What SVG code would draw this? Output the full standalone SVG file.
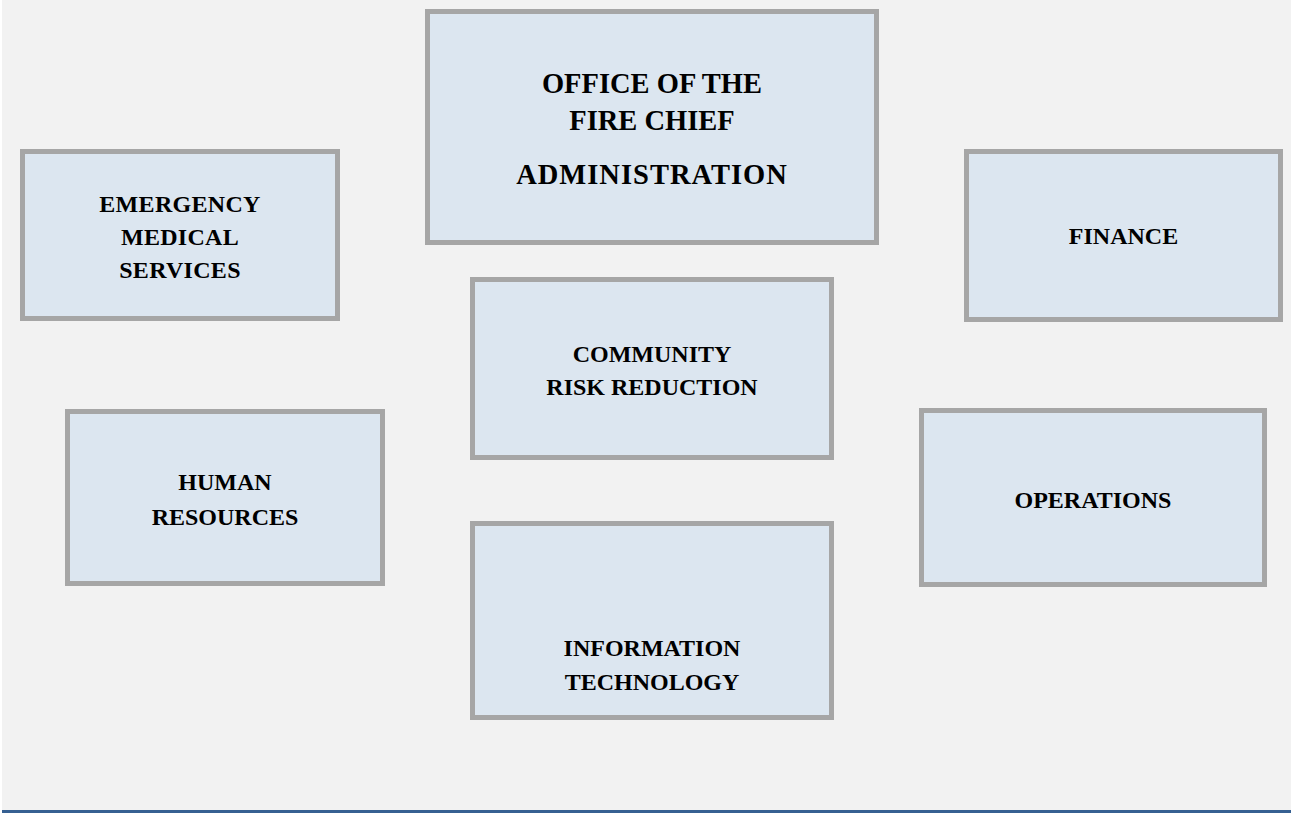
<svg xmlns="http://www.w3.org/2000/svg" width="1291" height="813" viewBox="0 0 1291 813">
  <style>
    .box { fill: #dce6f0; stroke: #a6a6a6; stroke-width: 5; }
    .lbl { font-family: "Liberation Serif", "Times New Roman", serif; font-weight: bold; font-size: 24px; fill: #000000; text-anchor: middle; }
    .big { font-size: 28.5px; }
  </style>
  <!-- page background and bottom rule -->
  <rect x="0" y="0" width="1291" height="813" fill="#ffffff"/>
  <rect x="2" y="0" width="1289" height="810" fill="#f2f2f2"/>
  <rect x="2" y="810" width="1289" height="3" fill="#366092"/>

  <g id="connectors"></g>

  <g id="office-fire-chief">
    <rect class="box" x="427.5" y="11.5" width="449" height="231"/>
    <text class="lbl big" x="652" y="93">OFFICE OF THE</text>
    <text class="lbl big" x="652" y="130">FIRE CHIEF</text>
    <text class="lbl big" x="652" y="184" letter-spacing="1">ADMINISTRATION</text>
  </g>

  <g id="emergency-medical-services">
    <rect class="box" x="22.5" y="151.5" width="315" height="167"/>
    <text class="lbl" x="180" y="212" letter-spacing="0.3">EMERGENCY</text>
    <text class="lbl" x="180" y="245" letter-spacing="0.3">MEDICAL</text>
    <text class="lbl" x="180" y="278" letter-spacing="0.3">SERVICES</text>
  </g>

  <g id="finance">
    <rect class="box" x="966.5" y="151.5" width="314" height="168"/>
    <text class="lbl" x="1123.5" y="244">FINANCE</text>
  </g>

  <g id="community-risk-reduction">
    <rect class="box" x="472.5" y="279.5" width="359" height="178"/>
    <text class="lbl" x="652" y="362">COMMUNITY</text>
    <text class="lbl" x="652" y="395">RISK REDUCTION</text>
  </g>

  <g id="human-resources">
    <rect class="box" x="67.5" y="411.5" width="315" height="172"/>
    <text class="lbl" x="225" y="490">HUMAN</text>
    <text class="lbl" x="225" y="525">RESOURCES</text>
  </g>

  <g id="operations">
    <rect class="box" x="921.5" y="410.5" width="343" height="174"/>
    <text class="lbl" x="1093" y="508">OPERATIONS</text>
  </g>

  <g id="information-technology">
    <rect class="box" x="472.5" y="523.5" width="359" height="194"/>
    <text class="lbl" x="652" y="656">INFORMATION</text>
    <text class="lbl" x="652" y="690">TECHNOLOGY</text>
  </g>
</svg>
